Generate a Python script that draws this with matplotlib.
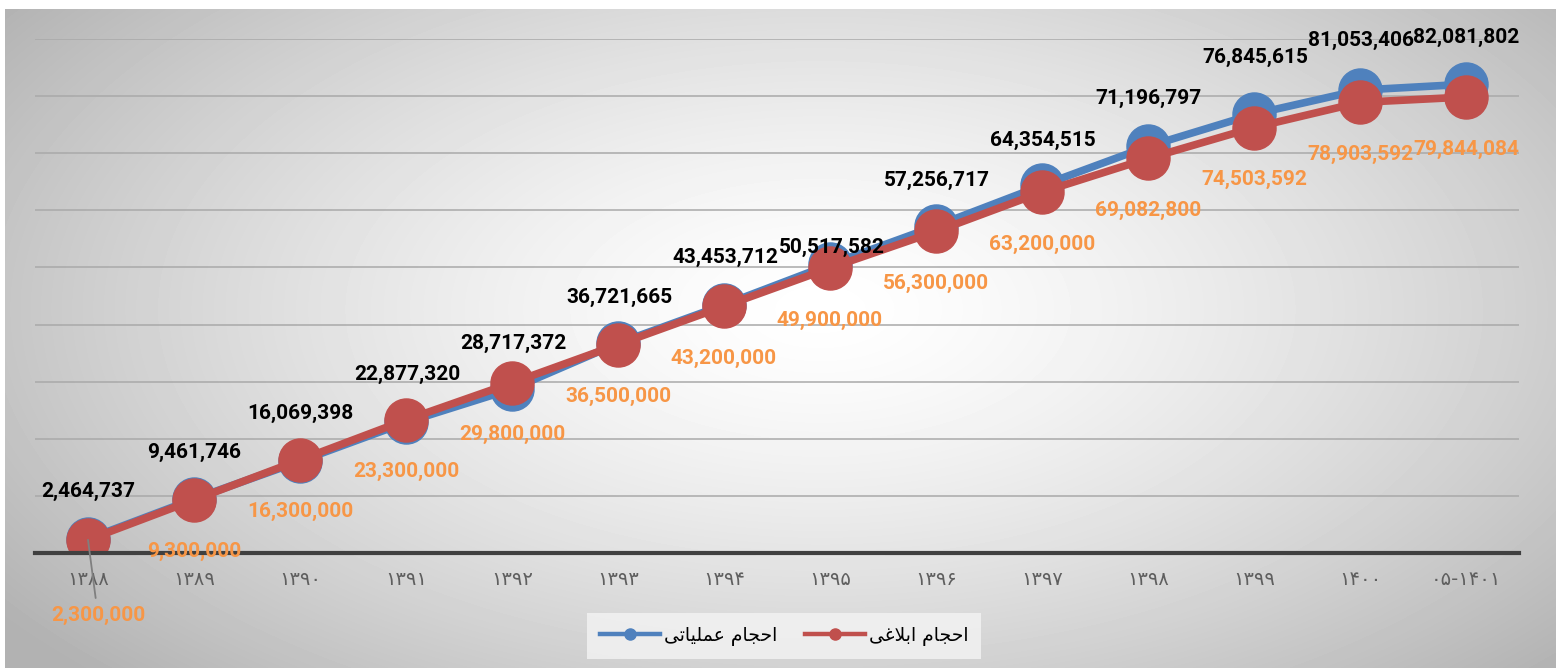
import numpy as np
import matplotlib
matplotlib.use('Agg')
import matplotlib.pyplot as plt
from matplotlib.lines import Line2D

# data
years = ['۱۳۸۸', '۱۳۸۹', '۱۳۹۰', '۱۳۹۱', '۱۳۹۲', '۱۳۹۳', '۱۳۹۴',
         '۱۳۹۵', '۱۳۹۶', '۱۳۹۷', '۱۳۹۸', '۱۳۹۹', '۱۴۰۰', '۰۵-۱۴۰۱']
operational = [2464737, 9461746, 16069398, 22877320, 28717372, 36721665, 43453712,
               50517582, 57256717, 64354515, 71196797, 76845615, 81053406, 82081802]
notified = [2300000, 9300000, 16300000, 23300000, 29800000, 36500000, 43200000,
            49900000, 56300000, 63200000, 69082800, 74503592, 78903592, 79844084]

# legend names, pre-shaped (matplotlib has no bidi / arabic shaping)
name_operational = 'ﻰﺗﺎﻴﻠﻤﻋ ﻡﺎﺠﺣﺍ'   # احجام عملیاتی
name_notified = 'ﻰﻏﻼﺑﺍ ﻡﺎﺠﺣﺍ'       # احجام ابلاغی

# label offsets in pixels (dx, dy), dy positive = down
blue_off = [(0, -47), (0, -47), (0, -48), (1, -48), (1, -46), (1, -46), (1, -47),
            (2, -17), (1, -46), (1, -45), (1, -48), (1, -57), (1, -50), (0, -47)]
red_off = [(10, 76)] + [(0, 52)] * 13

BLUE = '#4F81BD'
RED = '#C0504D'
ORANGE = '#F79646'

W, H = 1556, 668
fig = plt.figure(figsize=(W / 100, H / 100), dpi=100)
fig.patch.set_facecolor('white')

# radial gradient background
bg = fig.add_axes([5 / W, 0, 1 - 5 / W, 1 - 9 / H])
bg.set_axis_off()
gw, gh = 1551, 659
xx, yy = np.meshgrid(np.arange(gw), np.arange(gh))
r = np.sqrt(((xx - 815) / 880.0) ** 2 + ((yy - 300) / 460.0) ** 2)
val = 1 - 0.25 * np.clip(r, 0, 1.15) ** 1.4
bg.imshow(val, cmap='gray', vmin=0, vmax=1, aspect='auto', interpolation='bilinear')

ax = fig.add_axes([35 / W, (H - 553) / H, (1519 - 35) / W, (553 - 39) / H])
ax.patch.set_alpha(0)
x = np.arange(len(years))

ax.set_xlim(-0.5, len(years) - 0.5)
ax.set_ylim(0, 90e6)
ax.set_yticks(np.arange(0, 90e6 + 1, 10e6))
ax.yaxis.grid(True, color='#a9a9a9', lw=1.1)
ax.set_axisbelow(True)
ax.tick_params(axis='y', length=0, labelleft=False)
for s in ['top', 'right', 'left']:
    ax.spines[s].set_visible(False)
ax.spines['bottom'].set_color('#404040')
ax.spines['bottom'].set_linewidth(3)
ax.set_xticks(x)
ax.set_xticklabels(years, fontsize=14, color='#5f5f5f', family='DejaVu Sans')
ax.tick_params(axis='x', length=0, pad=12)

ax.plot(x, operational, color=BLUE, lw=5.5, marker='o', markersize=31,
        markerfacecolor=BLUE, markeredgecolor=BLUE, zorder=2, solid_capstyle='round')
ax.plot(x, notified, color=RED, lw=5.5, marker='o', markersize=31,
        markerfacecolor=RED, markeredgecolor=RED, zorder=2.1, solid_capstyle='round')

lab_font = dict(family='Roboto', weight='bold', fontsize=15)
for i in range(len(years)):
    dx, dy = blue_off[i]
    ax.annotate(f'{operational[i]:,}', (x[i], operational[i]),
                xytext=(dx * 0.72, -dy * 0.72), textcoords='offset points',
                ha='center', va='center', color='black', zorder=5, **lab_font)
    dx, dy = red_off[i]
    if i == 0:
        ax.annotate(f'{notified[i]:,}', (x[i], notified[i]),
                    xytext=(dx * 0.72, -dy * 0.72), textcoords='offset points',
                    ha='center', va='center', color=ORANGE, zorder=5,
                    arrowprops=dict(arrowstyle='-', color='#7f7f7f', lw=1.3,
                                    shrinkA=4, shrinkB=0),
                    annotation_clip=False, **lab_font)
    else:
        ax.annotate(f'{notified[i]:,}', (x[i], notified[i]),
                    xytext=(dx * 0.72, -dy * 0.72), textcoords='offset points',
                    ha='center', va='center', color=ORANGE, zorder=5,
                    annotation_clip=False, **lab_font)

handles = [Line2D([], [], color=BLUE, lw=3.2, marker='o', markersize=8),
           Line2D([], [], color=RED, lw=3.2, marker='o', markersize=8)]
leg = fig.legend(handles, [name_operational, name_notified], loc='center',
                 bbox_to_anchor=(784 / W, (H - 636) / H), ncol=2, frameon=True,
                 fancybox=False, prop=dict(family='DejaVu Sans', size=13.5),
                 handlelength=3.2, columnspacing=1.5, borderpad=0.7, handletextpad=0.2)
leg.get_frame().set_facecolor('#f2f2f2')
leg.get_frame().set_edgecolor('none')
leg.get_frame().set_alpha(0.85)

fig.savefig('out.png', dpi=100)
